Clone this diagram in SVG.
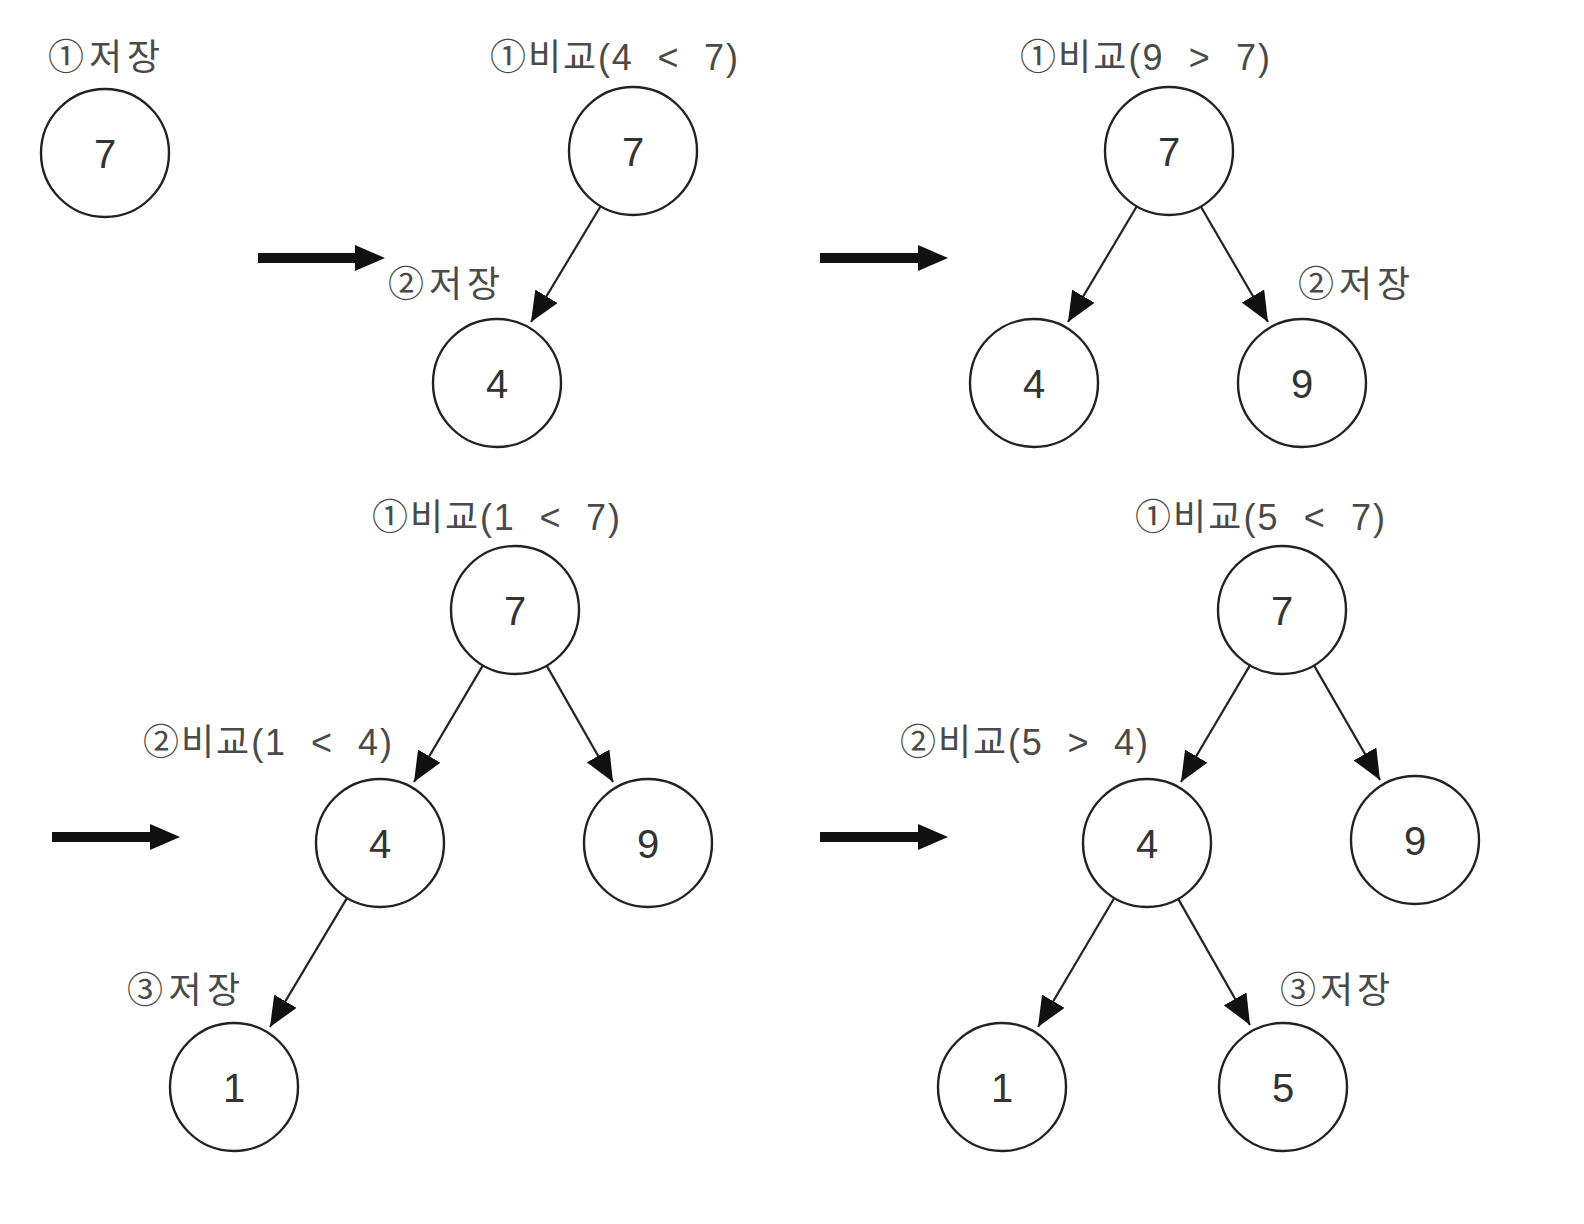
<svg xmlns="http://www.w3.org/2000/svg" width="1584" height="1224" viewBox="0 0 1584 1224">
<defs>
<marker id="ah" markerUnits="userSpaceOnUse" markerWidth="30" markerHeight="26" viewBox="0 0 30 26" refX="30" refY="13" orient="auto">
<path d="M0,0 L30,13 L0,26 z" fill="#111"/>
</marker>
<style>
.node circle{fill:#fff;stroke:#222;stroke-width:2.4}
.node text{font-family:"Liberation Sans",Arial,sans-serif;font-size:40px;fill:#333;text-anchor:middle}
.lbl{font-family:"Noto Sans CJK KR","Noto Sans",sans-serif;font-size:36px;fill:#4a4a4a}
.lat{font-family:"Liberation Sans",Arial,sans-serif}
.edge{stroke:#222;stroke-width:2.2;fill:none;marker-end:url(#ah)}
.big{fill:#111}
</style>
</defs>
<rect width="1584" height="1224" fill="#fff"/>

<g id="labels">
<text class="lbl" x="48" y="70" textLength="112" lengthAdjust="spacing">①저장</text>
<text class="lbl" x="490" y="70" textLength="248" lengthAdjust="spacing">①비교<tspan class="lat">(4&#160;&#160;&lt;&#160;&#160;7)</tspan></text>
<text class="lbl" x="388" y="297" textLength="112" lengthAdjust="spacing">②저장</text>
<text class="lbl" x="1020" y="70" textLength="250" lengthAdjust="spacing">①비교<tspan class="lat">(9&#160;&#160;&gt;&#160;&#160;7)</tspan></text>
<text class="lbl" x="1298" y="297" textLength="112" lengthAdjust="spacing">②저장</text>
<text class="lbl" x="372" y="530" textLength="248" lengthAdjust="spacing">①비교<tspan class="lat">(1&#160;&#160;&lt;&#160;&#160;7)</tspan></text>
<text class="lbl" x="143" y="755" textLength="249" lengthAdjust="spacing">②비교<tspan class="lat">(1&#160;&#160;&lt;&#160;&#160;4)</tspan></text>
<text class="lbl" x="127" y="1003" textLength="113" lengthAdjust="spacing">③저장</text>
<text class="lbl" x="1135" y="530" textLength="250" lengthAdjust="spacing">①비교<tspan class="lat">(5&#160;&#160;&lt;&#160;&#160;7)</tspan></text>
<text class="lbl" x="900" y="755" textLength="248" lengthAdjust="spacing">②비교<tspan class="lat">(5&#160;&#160;&gt;&#160;&#160;4)</tspan></text>
<text class="lbl" x="1280" y="1003" textLength="110" lengthAdjust="spacing">③저장</text>
</g>

<g id="steparrows">
<polygon class="big" points="258,253 355,253 355,245 385,258 355,271 355,263 258,263"/>
<polygon class="big" points="820,253 918,253 918,245 948,258 918,271 918,263 820,263"/>
<polygon class="big" points="52,832 150,832 150,824 180,837 150,850 150,842 52,842"/>
<polygon class="big" points="820,832 918,832 918,824 948,837 918,850 918,842 820,842"/>
</g>

<g id="connectors">
<line class="edge" x1="600.6" y1="206.2" x2="531" y2="322"/>
<line class="edge" x1="1136.8" y1="206.3" x2="1068" y2="322"/>
<line class="edge" x1="1200.8" y1="206.5" x2="1268" y2="322"/>
<line class="edge" x1="482.9" y1="665.4" x2="414" y2="782"/>
<line class="edge" x1="546.7" y1="665.6" x2="613" y2="782"/>
<line class="edge" x1="347.1" y1="897.9" x2="270" y2="1027"/>
<line class="edge" x1="1249.9" y1="665.4" x2="1181" y2="782"/>
<line class="edge" x1="1314" y1="665.4" x2="1380" y2="780"/>
<line class="edge" x1="1114.3" y1="898" x2="1038" y2="1027"/>
<line class="edge" x1="1178.2" y1="898.9" x2="1250" y2="1025"/>
</g>

<g id="t1n7" class="node"><circle cx="105" cy="153" r="64"/><text x="105" y="168">7</text></g>
<g id="t2n7" class="node"><circle cx="633" cy="151" r="64"/><text x="633" y="166">7</text></g>
<g id="t2n4" class="node"><circle cx="497" cy="383" r="64"/><text x="497" y="398">4</text></g>
<g id="t3n7" class="node"><circle cx="1169" cy="151" r="64"/><text x="1169" y="166">7</text></g>
<g id="t3n4" class="node"><circle cx="1034" cy="383" r="64"/><text x="1034" y="398">4</text></g>
<g id="t3n9" class="node"><circle cx="1302" cy="383" r="64"/><text x="1302" y="398">9</text></g>
<g id="t4n7" class="node"><circle cx="515" cy="610" r="64"/><text x="515" y="625">7</text></g>
<g id="t4n4" class="node"><circle cx="380" cy="843" r="64"/><text x="380" y="858">4</text></g>
<g id="t4n9" class="node"><circle cx="648" cy="843" r="64"/><text x="648" y="858">9</text></g>
<g id="t4n1" class="node"><circle cx="234" cy="1087" r="64"/><text x="234" y="1102">1</text></g>
<g id="t5n7" class="node"><circle cx="1282" cy="610" r="64"/><text x="1282" y="625">7</text></g>
<g id="t5n4" class="node"><circle cx="1147" cy="843" r="64"/><text x="1147" y="858">4</text></g>
<g id="t5n9" class="node"><circle cx="1415" cy="840" r="64"/><text x="1415" y="855">9</text></g>
<g id="t5n1" class="node"><circle cx="1002" cy="1087" r="64"/><text x="1002" y="1102">1</text></g>
<g id="t5n5" class="node"><circle cx="1283" cy="1087" r="64"/><text x="1283" y="1102">5</text></g>
</svg>
